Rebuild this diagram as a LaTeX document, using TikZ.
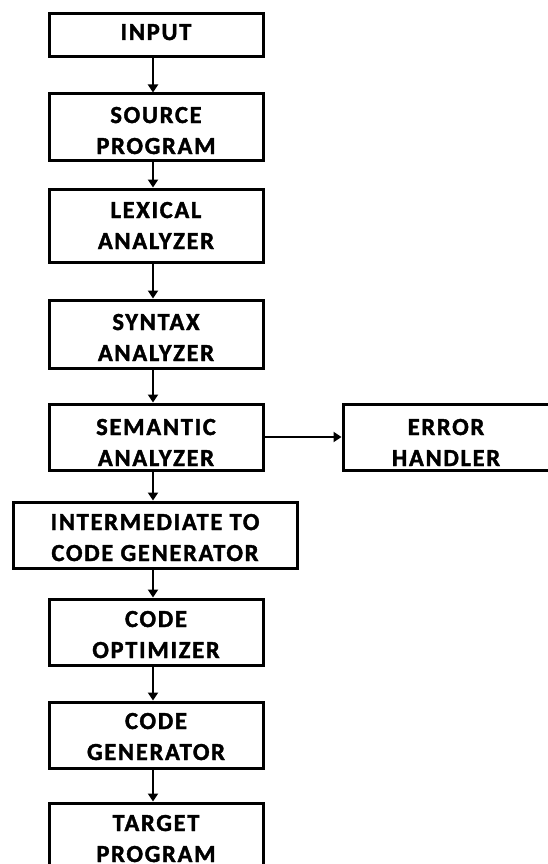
\documentclass[tikz,border=0pt]{standalone}
\usepackage{fontspec}
\newfontfamily\boxfont{Carlito}[LetterSpace=7, UprightFont={* Bold}, FakeBold=1.6]
\usetikzlibrary{arrows.meta}

\begin{document}
\begin{tikzpicture}[x=1pt,y=-1pt,
  box/.style={draw=black, line width=3pt, rectangle, inner sep=0pt,
              minimum width=214pt},
  lbl/.style={anchor=base, align=center, inner sep=0pt,
              font=\boxfont\fontsize{24.5}{31}\selectfont},
  flow/.style={draw=black, line width=2pt,
               -{Triangle[length=8pt,width=10pt]}}]
\useasboundingbox (0,0) rectangle (547,864);

% main column of phases
\node[box, minimum height=43pt] (input)  at (156,35.5) {};
\node[box, minimum height=66pt] (source) at (156,127)  {};
\node[box, minimum height=73pt] (lex)    at (156,225.5){};
\node[box, minimum height=68pt] (syn)    at (156,334)  {};
\node[box, minimum height=66pt] (sem)    at (156,437)  {};
\node[box, minimum height=66pt, minimum width=284pt] (inter) at (155,535) {};
\node[box, minimum height=66pt] (opt)    at (156,632)  {};
\node[box, minimum height=66pt] (gen)    at (156,735)  {};
\node[box, minimum height=66pt] (target) at (156,836)  {};
% side box
\node[box, minimum height=66pt, minimum width=206pt] (err) at (446,437) {};

% box texts (the base anchor sits on the last line)
\node[lbl] (inputT)  at (156,40)  {INPUT};
\node[lbl] (sourceT) at (156,154) {SOURCE\\PROGRAM};
\node[lbl] (lexT)    at (156,249) {LEXICAL\\ANALYZER};
\node[lbl] (synT)    at (156,361) {SYNTAX\\ANALYZER};
\node[lbl] (semT)    at (156,466) {SEMANTIC\\ANALYZER};
\node[lbl] (errT)    at (446,466) {ERROR\\HANDLER};
\node[lbl] (interT)  at (155,561) {INTERMEDIATE TO\\CODE GENERATOR};
\node[lbl] (optT)    at (156,658) {CODE\\OPTIMIZER};
\node[lbl] (genT)    at (156,760) {CODE\\GENERATOR};
\node[lbl] (targetT) at (156,862) {TARGET\\PROGRAM};

% vertical spine of the arrows
\coordinate (spine) at (153,0);

\draw[flow] (input.south -| spine)  -- (source.north -| spine);
\draw[flow] (source.south -| spine) -- (lex.north -| spine);
\draw[flow] (lex.south -| spine)    -- (syn.north -| spine);
\draw[flow] (syn.south -| spine)    -- (sem.north -| spine);
\draw[flow] (sem.south -| spine)    -- (inter.north -| spine);
\draw[flow] (inter.south -| spine)  -- (opt.north -| spine);
\draw[flow] (opt.south -| spine)    -- (gen.north -| spine);
\draw[flow] (gen.south -| spine)    -- (target.north -| spine);
\draw[flow] (sem.east) -- (err.west);
\end{tikzpicture}
\end{document}
